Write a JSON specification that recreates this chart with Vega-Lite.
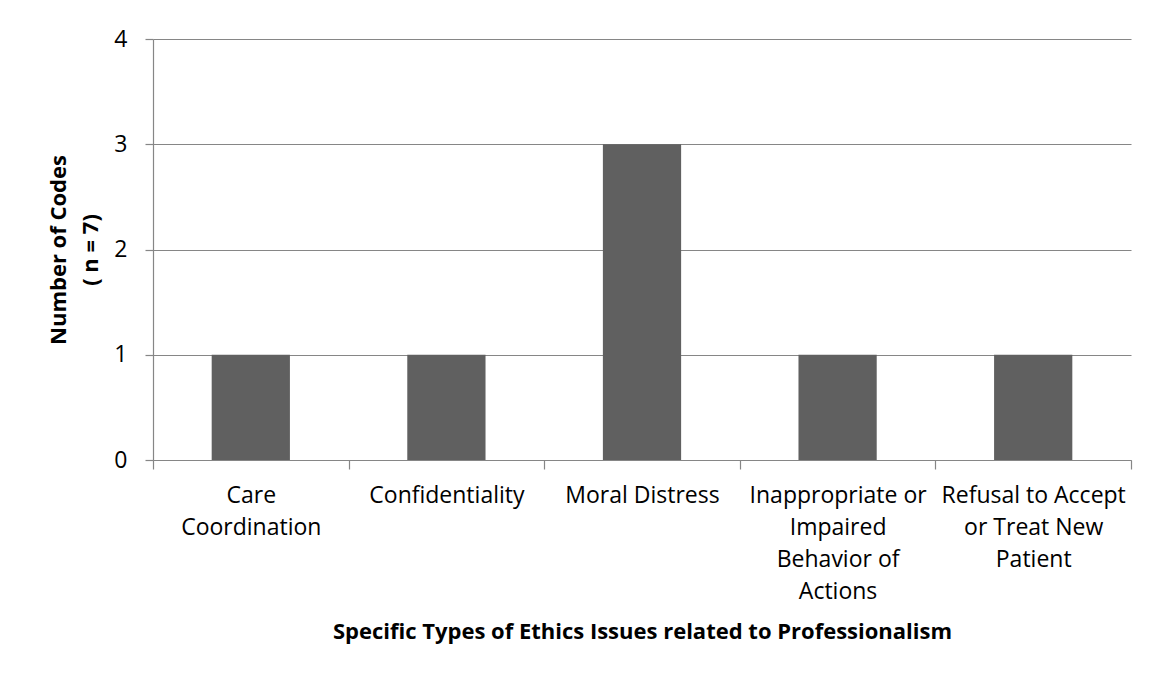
{
  "$schema": "https://vega.github.io/schema/vega-lite/v6.json",
  "autosize": "none",
  "width": 978,
  "height": 421,
  "padding": {"left": 153, "top": 39, "right": 27, "bottom": 217},
  "background": "white",
  "data": {
    "values": [
      {"issue": "Care Coordination", "codes": 1},
      {"issue": "Confidentiality", "codes": 1},
      {"issue": "Moral Distress", "codes": 3},
      {"issue": "Inappropriate or Impaired Behavior of Actions", "codes": 1},
      {"issue": "Refusal to Accept or Treat New Patient", "codes": 1}
    ]
  },
  "mark": {"type": "bar", "color": "#606060", "width": {"band": 0.4}},
  "encoding": {
    "x": {
      "field": "issue",
      "type": "nominal",
      "sort": null,
      "scale": {"paddingInner": 0, "paddingOuter": 0},
      "axis": {
        "title": "Specific Types of Ethics Issues related to Professionalism",
        "labelAngle": 0,
        "tickBand": "extent",
        "tickSize": 9,
        "labelPadding": 15,
        "labelBaseline": "top",
        "labelLineHeight": 32,
        "labelExpr": "datum.value == 'Care Coordination' ? ['Care', 'Coordination'] : datum.value == 'Inappropriate or Impaired Behavior of Actions' ? ['Inappropriate or', 'Impaired', 'Behavior of', 'Actions'] : datum.value == 'Refusal to Accept or Treat New Patient' ? ['Refusal to Accept', 'or Treat New', 'Patient'] : datum.value",
        "titlePadding": 18
      }
    },
    "y": {
      "field": "codes",
      "type": "quantitative",
      "scale": {"domain": [0, 4]},
      "axis": {
        "title": ["Number of Codes", "( n = 7)"],
        "values": [0, 1, 2, 3, 4],
        "format": "d",
        "grid": true,
        "tickSize": 8,
        "labelPadding": 18,
        "titleLineHeight": 32,
        "titlePadding": 11
      }
    }
  },
  "config": {
    "view": {"stroke": null},
    "font": "Open Sans",
    "axis": {
      "domainColor": "#868686",
      "tickColor": "#868686",
      "gridColor": "#868686",
      "domainWidth": 1.2,
      "tickWidth": 1.2,
      "gridWidth": 1.2,
      "labelFont": "Open Sans",
      "labelFontSize": 23,
      "labelColor": "#000000",
      "titleFont": "Open Sans",
      "titleFontSize": 22,
      "titleFontWeight": "bold",
      "titleColor": "#000000",
      "labelLimit": 0
    }
  }
}
